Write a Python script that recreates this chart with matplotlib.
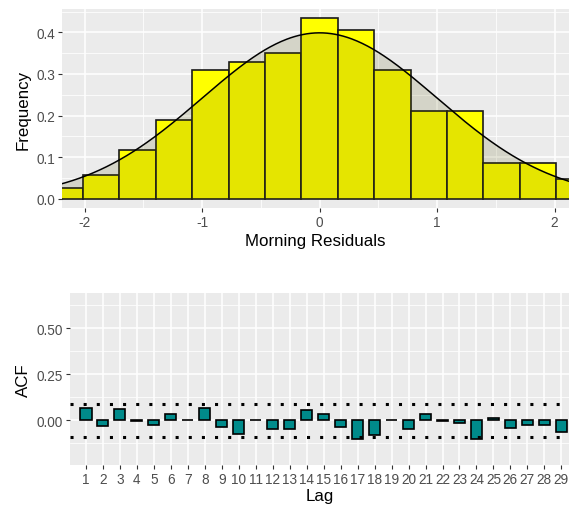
import numpy as np
import matplotlib.pyplot as plt
from matplotlib.ticker import MultipleLocator

plt.rcParams['font.family'] = ['Liberation Sans', 'DejaVu Sans']

# histogram of morning residuals (density scale)
bin_width = 0.31
bin_centers = [-2.17, -1.86, -1.55, -1.24, -0.93, -0.62, -0.31, 0.0,
               0.31, 0.62, 0.93, 1.24, 1.55, 1.86, 2.17]
bin_density = [0.026, 0.056, 0.118, 0.189, 0.309, 0.329, 0.350, 0.434,
               0.406, 0.310, 0.210, 0.210, 0.085, 0.085, 0.048]

# reference normal curve
norm_mean = 0.0
norm_sd = 1.0

# autocorrelation of residuals
lags = list(range(1, 30))
acf_vals = [0.066, -0.033, 0.060, -0.003, -0.024, 0.035, 0.002, 0.069,
            -0.036, -0.077, 0.000, -0.049, -0.049, 0.058, 0.033, -0.035,
            -0.102, -0.078, 0.002, -0.046, 0.036, -0.004, -0.016, -0.102,
            0.013, -0.040, -0.026, -0.026, -0.066]
conf_limit = 0.0905

BG = '#EBEBEB'
TICK_COL = '#4D4D4D'


def ggplot_axes(ax):
    ax.set_facecolor(BG)
    for sp in ax.spines.values():
        sp.set_visible(False)
    ax.grid(True, which='major', color='white', linewidth=1.1)
    ax.grid(True, which='minor', color='white', linewidth=0.55)
    ax.set_axisbelow(True)
    ax.tick_params(which='major', length=3, width=0.8, color='#333333',
                   labelsize=9.8, labelcolor=TICK_COL, pad=2)
    ax.tick_params(which='minor', length=0)


fig = plt.figure(figsize=(5.69, 5.06), dpi=100)

# --- top: histogram with normal density ---
ax1 = fig.add_axes([0.109, 0.587, 0.891, 0.393])
ggplot_axes(ax1)
ax1.bar(bin_centers, bin_density, width=bin_width, color='#FFFF00',
        edgecolor='#1a1a1a', linewidth=1.2, zorder=2)
xs = np.linspace(-2.3, 2.3, 400)
dens = np.exp(-0.5 * ((xs - norm_mean) / norm_sd) ** 2) / (norm_sd * np.sqrt(2 * np.pi))
ax1.fill_between(xs, 0, dens, color=(0.34, 0.34, 0.0), alpha=0.15,
                 linewidth=0, zorder=3)
ax1.plot(xs, dens, color='black', linewidth=1.1, zorder=4)
ax1.set_xlim(-2.193, 2.123)
ax1.set_ylim(-0.0223, 0.456)
ax1.xaxis.set_major_locator(MultipleLocator(1))
ax1.xaxis.set_minor_locator(MultipleLocator(0.5))
ax1.yaxis.set_major_locator(MultipleLocator(0.1))
ax1.yaxis.set_minor_locator(MultipleLocator(0.05))
ax1.set_xticks([-2, -1, 0, 1, 2])
ax1.set_xticklabels(['-2', '-1', '0', '1', '2'])
ax1.set_xlabel('Morning Residuals', fontsize=12.2, labelpad=3)
ax1.set_ylabel('Frequency', fontsize=12.2, labelpad=4)

# --- bottom: ACF ---
ax2 = fig.add_axes([0.123, 0.0797, 0.877, 0.339])
ggplot_axes(ax2)
ax2.bar(lags, acf_vals, width=0.65, color='#008B8B', edgecolor='black',
        linewidth=1.2, zorder=2)
for lim in (conf_limit, -conf_limit):
    ax2.axhline(lim, color='black', linewidth=2.2, linestyle=(0, (1, 3.3)),
                dash_capstyle='butt', zorder=3)
ax2.set_xlim(0.057, 29.45)
ax2.set_ylim(-0.241, 0.69)
ax2.set_xticks(lags)
ax2.set_xticklabels([str(l) for l in lags])
ax2.yaxis.set_major_locator(MultipleLocator(0.25))
ax2.yaxis.set_minor_locator(MultipleLocator(0.125))
ax2.set_yticks([0.0, 0.25, 0.5])
ax2.set_yticklabels(['0.00', '0.25', '0.50'])
ax2.set_xlabel('Lag', fontsize=12.2, labelpad=1.5)
ax2.set_ylabel('ACF', fontsize=12.2, labelpad=4)

fig.savefig('out.png', dpi=100)
